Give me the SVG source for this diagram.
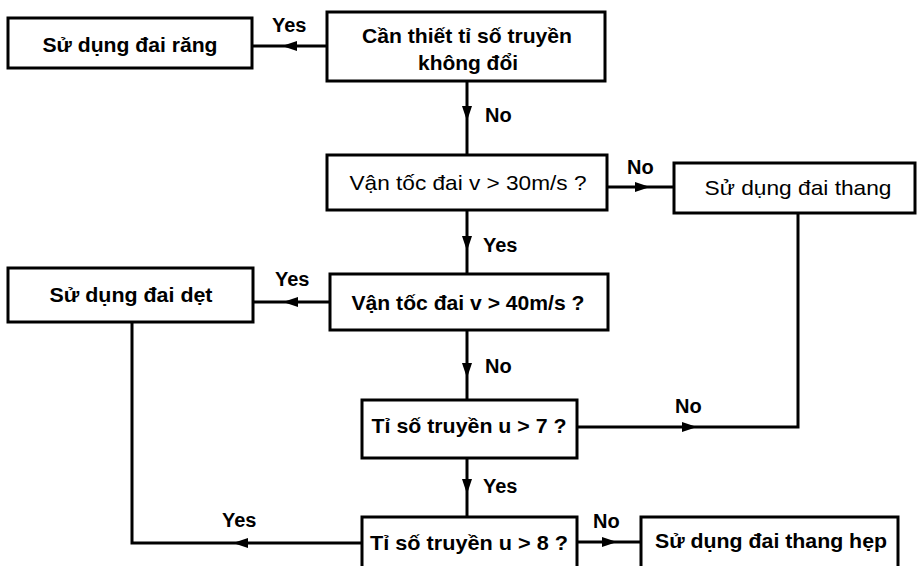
<svg xmlns="http://www.w3.org/2000/svg" xmlns:xlink="http://www.w3.org/1999/xlink" width="918" height="566" viewBox="0 0 918 566">
<style>
.box{fill:#fff;stroke:#000;stroke-width:3}
.t{font-family:"Liberation Sans",Arial,Helvetica,sans-serif;font-size:21px;font-weight:bold;fill:#000;text-anchor:middle}
.tn{font-weight:normal}
.lbl{font-family:"Liberation Sans",Arial,Helvetica,sans-serif;font-size:20px;font-weight:bold;fill:#000}
.ln{fill:none;stroke:#000;stroke-width:3}
</style>
<defs>
<path id="ah" d="M0,0 L-15,-5 L-15,5 Z" fill="#000"/>
</defs>
<rect width="918" height="566" fill="#fff"/>
<g id="connectors">
<path class="ln" d="M327,46 H252"/>
<use xlink:href="#ah" href="#ah" transform="translate(282,46) rotate(180)"/>
<path class="ln" d="M467,81 V155"/>
<use xlink:href="#ah" href="#ah" transform="translate(467,121) rotate(90)"/>
<path class="ln" d="M607,187 H674"/>
<use xlink:href="#ah" href="#ah" transform="translate(650,187)"/>
<path class="ln" d="M467,210 V274"/>
<use xlink:href="#ah" href="#ah" transform="translate(467,251) rotate(90)"/>
<path class="ln" d="M330,302 H253"/>
<use xlink:href="#ah" href="#ah" transform="translate(283,302) rotate(180)"/>
<path class="ln" d="M467,330 V400"/>
<use xlink:href="#ah" href="#ah" transform="translate(467,378) rotate(90)"/>
<path class="ln" d="M577,427 H798 V213"/>
<use xlink:href="#ah" href="#ah" transform="translate(697,427)"/>
<path class="ln" d="M467,458 V517"/>
<use xlink:href="#ah" href="#ah" transform="translate(467,494) rotate(90)"/>
<path class="ln" d="M132,322 V543 H362"/>
<use xlink:href="#ah" href="#ah" transform="translate(233,543) rotate(180)"/>
<path class="ln" d="M577,542 H641"/>
<use xlink:href="#ah" href="#ah" transform="translate(617,542)"/>
<text class="lbl" x="272" y="32">Yes</text>
<text class="lbl" x="485" y="122">No</text>
<text class="lbl" x="627" y="174">No</text>
<text class="lbl" x="483" y="252">Yes</text>
<text class="lbl" x="275" y="286">Yes</text>
<text class="lbl" x="485" y="373">No</text>
<text class="lbl" x="675" y="413">No</text>
<text class="lbl" x="483" y="493">Yes</text>
<text class="lbl" x="593" y="528">No</text>
<text class="lbl" x="222" y="527">Yes</text>
</g>
<g id="n-rang">
<rect class="box" x="8" y="18" width="244" height="50"/>
<text class="t" x="130" y="52" textLength="175" lengthAdjust="spacingAndGlyphs">Sử dụng đai răng</text>
</g>
<g id="n-can">
<rect class="box" x="327" y="12" width="278" height="69"/>
<text class="t" x="467" y="43" textLength="210" lengthAdjust="spacingAndGlyphs">Cần thiết tỉ số truyền</text>
<text class="t" x="468" y="70" textLength="100" lengthAdjust="spacingAndGlyphs">không đổi</text>
</g>
<g id="n-v30">
<rect class="box" x="327" y="155" width="280" height="55"/>
<text class="t tn" x="468" y="190" textLength="237" lengthAdjust="spacingAndGlyphs">Vận tốc đai v &gt; 30m/s ?</text>
</g>
<g id="n-thang">
<rect class="box" x="674" y="163" width="241" height="50"/>
<text class="t tn" x="798" y="195" textLength="187" lengthAdjust="spacingAndGlyphs">Sử dụng đai thang</text>
</g>
<g id="n-v40">
<rect class="box" x="330" y="274" width="278" height="56"/>
<text class="t" x="468" y="310" textLength="233" lengthAdjust="spacingAndGlyphs">Vận tốc đai v &gt; 40m/s ?</text>
</g>
<g id="n-det">
<rect class="box" x="8" y="268" width="245" height="54"/>
<text class="t" x="131" y="302" textLength="163" lengthAdjust="spacingAndGlyphs">Sử dụng đai dẹt</text>
</g>
<g id="n-u7">
<rect class="box" x="362" y="400" width="215" height="58"/>
<text class="t" x="469" y="433" textLength="195" lengthAdjust="spacingAndGlyphs">Tỉ số truyền u &gt; 7 ?</text>
</g>
<g id="n-u8">
<rect class="box" x="362" y="517" width="215" height="60"/>
<text class="t" x="469" y="550" textLength="198" lengthAdjust="spacingAndGlyphs">Tỉ số truyền u &gt; 8 ?</text>
</g>
<g id="n-hep">
<rect class="box" x="641" y="517" width="257" height="60"/>
<text class="t" x="771" y="548" textLength="232" lengthAdjust="spacingAndGlyphs">Sử dụng đai thang hẹp</text>
</g>
</svg>
